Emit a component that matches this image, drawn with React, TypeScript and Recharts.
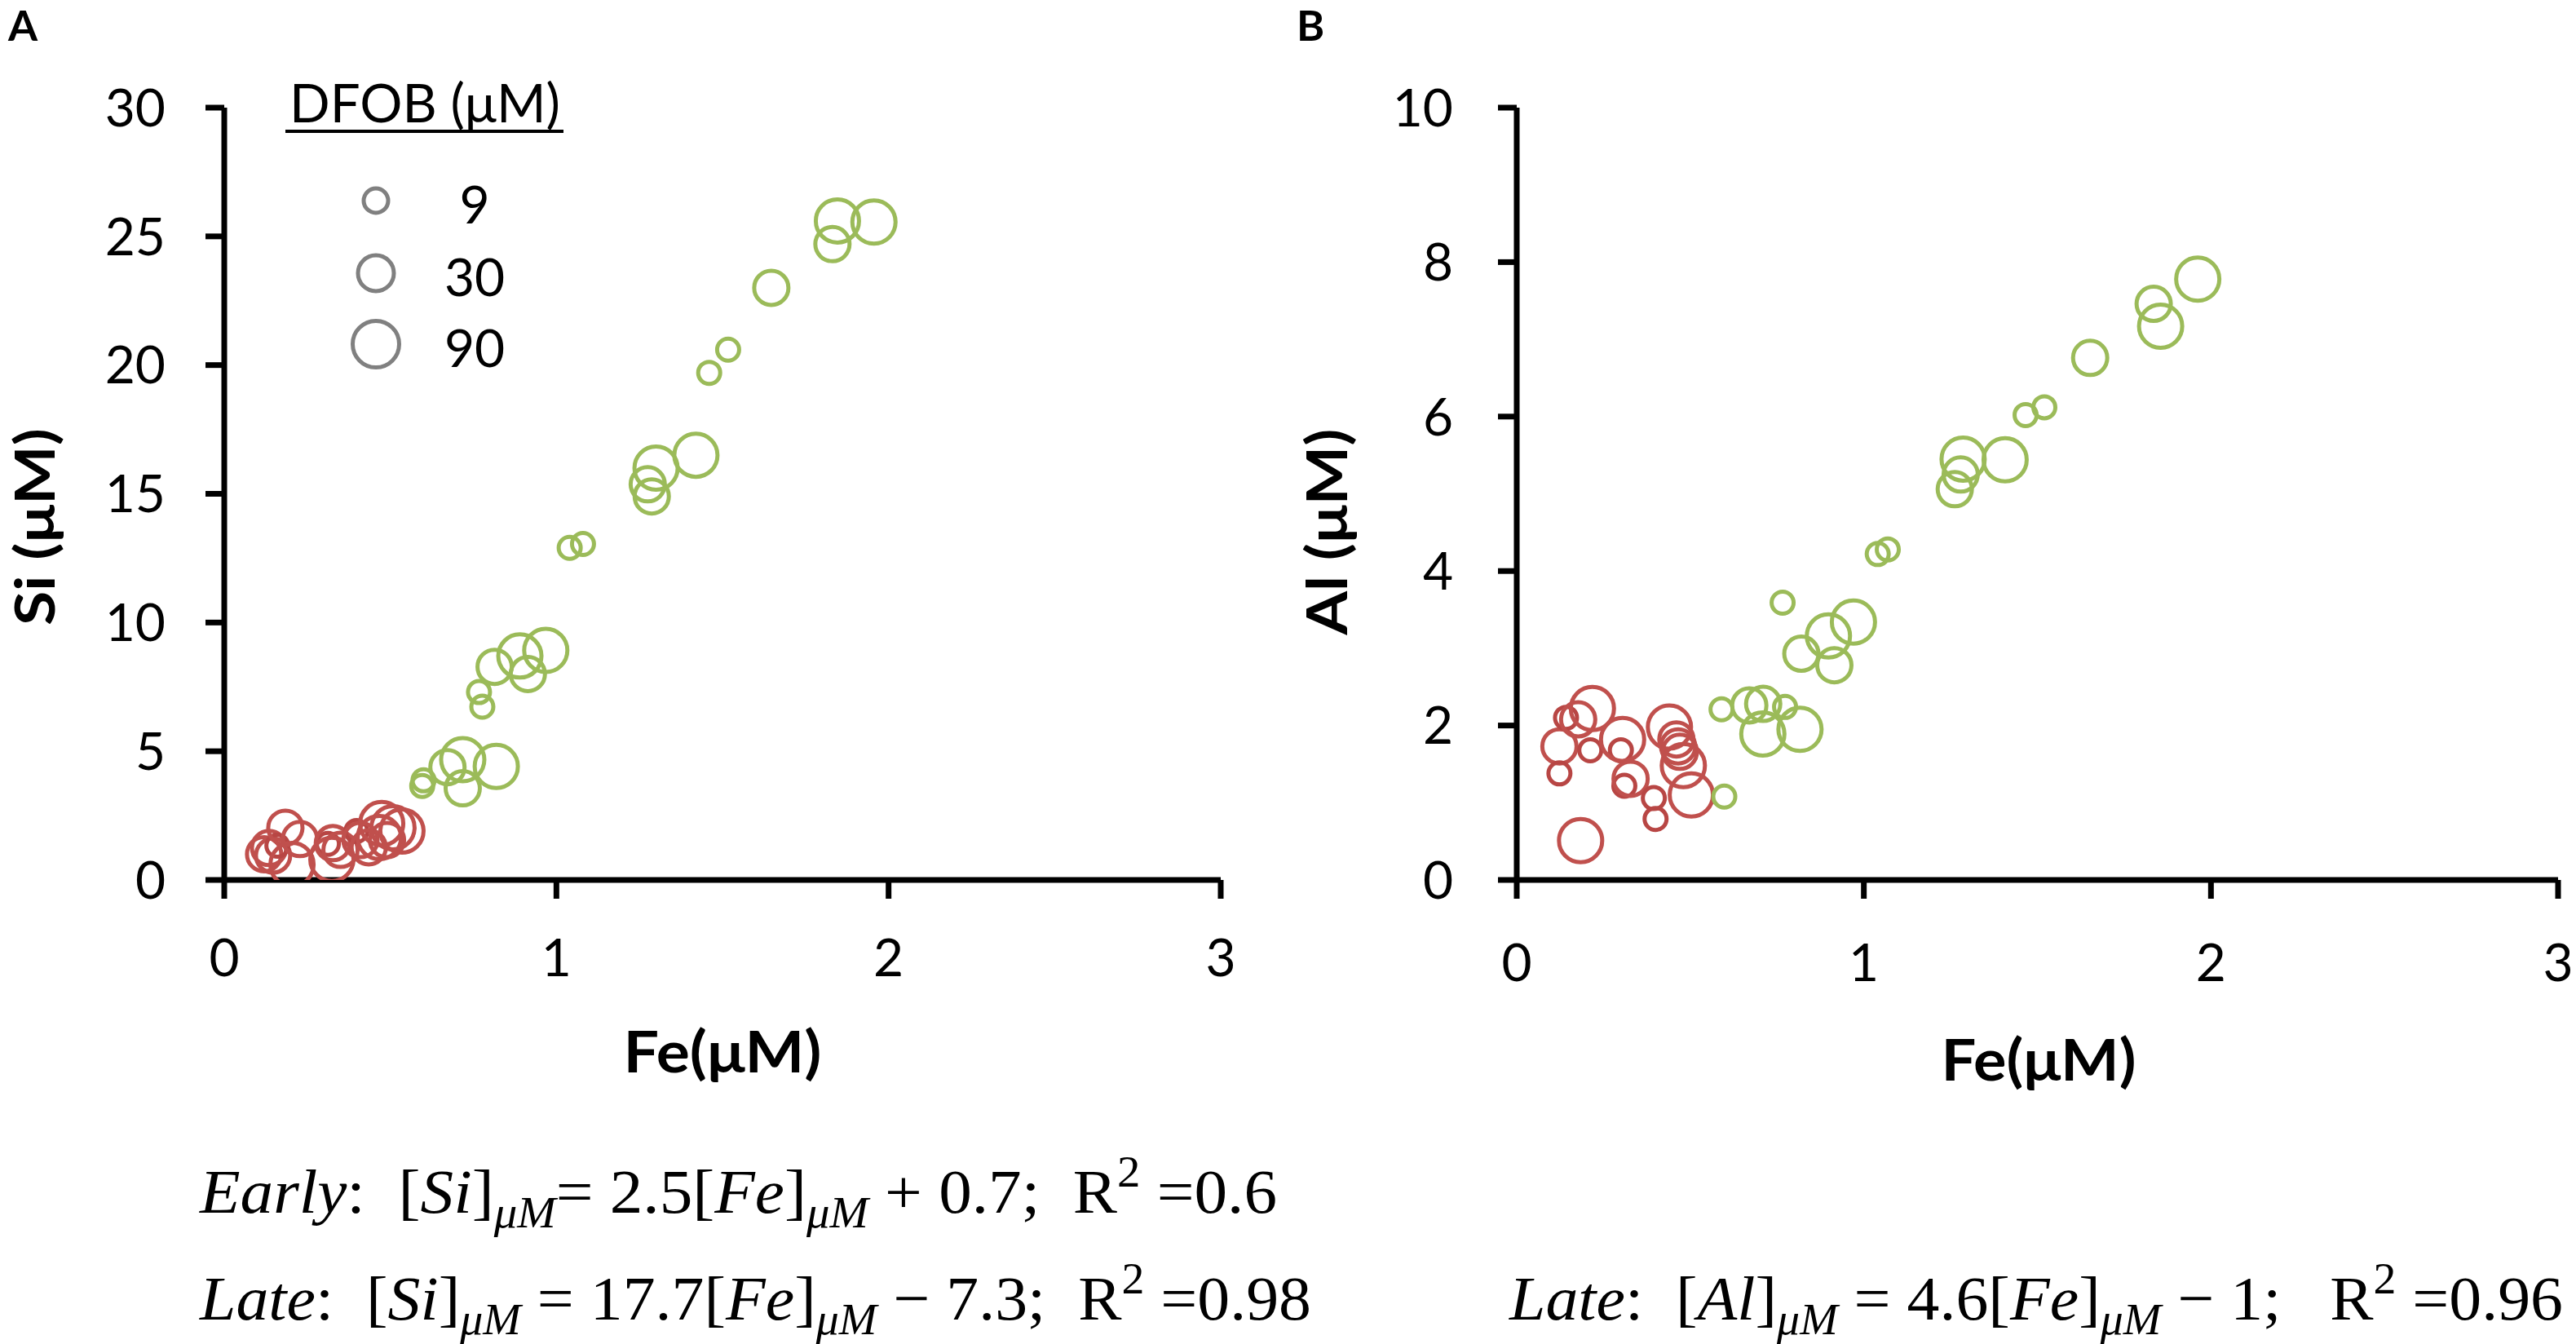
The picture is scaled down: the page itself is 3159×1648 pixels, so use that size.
import { Scatter, ScatterChart, XAxis, YAxis } from 'recharts';

// Fe ticks are shared by both panels
const FE_TICKS = [0, 1, 2, 3];
const SI_TICKS = [0, 5, 10, 15, 20, 25, 30];
const AL_TICKS = [0, 2, 4, 6, 8, 10];
const LEGEND_DFOB = [9, 30, 90];

// Panel A — early phase (red)
const earlyFeA = [0.12, 0.135, 0.147, 0.16, 0.184, 0.204, 0.228, 0.312, 0.324, 0.327, 0.35, 0.398, 0.41, 0.435, 0.467, 0.474, 0.49, 0.508, 0.535];
const earlySi = [1.0, 1.24, 0.95, 1.33, 2.03, 0.6, 1.59, 1.4, 0.8, 1.43, 1.17, 1.9, 1.55, 1.27, 1.65, 2.19, 1.55, 2.03, 1.9];
const earlyDfobA = [30, 30, 30, 9, 30, 90, 30, 9, 90, 30, 30, 9, 30, 30, 90, 90, 30, 90, 90];

// Panel A — late phase (green)
const lateFeA = [0.596, 0.6, 0.672, 0.718, 0.718, 0.767, 0.777, 0.814, 0.819, 0.89, 0.914, 0.968, 1.04, 1.08, 1.275, 1.287, 1.3, 1.42, 1.46, 1.517, 1.647, 1.831, 1.846, 1.956];
const lateSi = [3.65, 3.87, 4.38, 3.56, 4.67, 7.3, 6.73, 8.28, 4.41, 8.7, 8.0, 8.92, 12.9, 13.05, 15.37, 14.9, 16.0, 16.5, 19.7, 20.6, 23.0, 24.7, 25.6, 25.56];
const lateDfobA = [9, 9, 30, 30, 90, 9, 9, 30, 90, 90, 30, 90, 9, 9, 30, 30, 90, 90, 9, 9, 30, 30, 90, 90];

// Panel B — early phase (red)
const earlyFeB = [0.123, 0.123, 0.142, 0.177, 0.184, 0.212, 0.218, 0.3, 0.305, 0.31, 0.328, 0.395, 0.4, 0.44, 0.46, 0.465, 0.47, 0.48, 0.503];
const earlyAl = [1.73, 1.38, 2.1, 2.08, 0.51, 1.68, 2.22, 1.68, 1.82, 1.22, 1.31, 1.06, 0.79, 1.98, 1.82, 1.73, 1.66, 1.48, 1.1];
const earlyDfobB = [30, 9, 9, 30, 90, 9, 90, 9, 90, 9, 30, 9, 9, 90, 30, 30, 30, 90, 90];

// Panel B — late phase (green)
const lateFeB = [0.59, 0.598, 0.67, 0.709, 0.71, 0.766, 0.773, 0.816, 0.82, 0.898, 0.915, 0.97, 1.04, 1.069, 1.262, 1.279, 1.286, 1.407, 1.466, 1.52, 1.652, 1.835, 1.855, 1.962];
const lateAl = [2.21, 1.08, 2.26, 1.89, 2.28, 3.59, 2.24, 1.95, 2.93, 3.16, 2.78, 3.34, 4.22, 4.28, 5.06, 5.25, 5.45, 5.44, 6.02, 6.12, 6.76, 7.46, 7.17, 7.78];
const lateDfobB = [9, 9, 30, 90, 30, 9, 9, 90, 30, 90, 30, 90, 9, 9, 30, 30, 90, 90, 9, 9, 30, 30, 90, 90];

type Seg = { t: string; it?: boolean; sub?: boolean; sup?: boolean };

const EQ_EARLY_SI: Seg[] = [
  { t: 'Early', it: true }, { t: ':  [' }, { t: 'Si', it: true }, { t: ']' }, { t: 'μM', it: true, sub: true },
  { t: '= 2.5[' }, { t: 'Fe', it: true }, { t: ']' }, { t: 'μM', it: true, sub: true },
  { t: ' + 0.7;  R' }, { t: '2', sup: true }, { t: ' =0.6' },
];
const EQ_LATE_SI: Seg[] = [
  { t: 'Late', it: true }, { t: ':  [' }, { t: 'Si', it: true }, { t: ']' }, { t: 'μM', it: true, sub: true },
  { t: ' = 17.7[' }, { t: 'Fe', it: true }, { t: ']' }, { t: 'μM', it: true, sub: true },
  { t: ' − 7.3;  R' }, { t: '2', sup: true }, { t: ' =0.98' },
];
const EQ_LATE_AL: Seg[] = [
  { t: 'Late', it: true }, { t: ':  [' }, { t: 'Al', it: true }, { t: ']' }, { t: 'μM', it: true, sub: true },
  { t: ' = 4.6[' }, { t: 'Fe', it: true }, { t: ']' }, { t: 'μM', it: true, sub: true },
  { t: ' − 1;   R' }, { t: '2', sup: true }, { t: ' =0.96' },
];

const RED = '#C0504D';
const RED_SMALL = '#B84644';
const GREEN = '#9BBB59';
const GREY = '#808080';

const RING_R: Record<number, number> = { 9: 13.5, 30: 21, 90: 26.5 };
const LEGEND_R: Record<number, number> = { 9: 15, 30: 22, 90: 28.5 };
const RING_W = 5;

const SANS = 'Lato, "Open Sans", sans-serif';
const SERIF = '"Liberation Serif", "DejaVu Serif", serif';
const TICK_FONT = 64;
const EQ_SIZE = 77;

const zip = (fe: number[], y: number[], dfob: number[]) =>
  fe.map((f, i) => ({ fe: f, y: y[i], dfob: dfob[i] }));

const ring = (color: string, smallColor?: string) => (props: any) => {
  const { cx, cy, payload } = props;
  if (cx == null || cy == null) return <g />;
  const d = payload.dfob as number;
  return (
    <circle
      cx={cx}
      cy={cy}
      r={RING_R[d]}
      fill="none"
      stroke={d === 9 && smallColor ? smallColor : color}
      strokeWidth={RING_W}
    />
  );
};

const axisStroke = { stroke: '#000', strokeWidth: 7 };
const tickStyle = { fill: '#000', fontSize: TICK_FONT, fontFamily: SANS };

function Equation({ x, y, width, segs }: { x: number; y: number; width: number; segs: Seg[] }) {
  let shift = 0;
  return (
    <text
      x={x}
      y={y}
      textLength={width}
      lengthAdjust="spacingAndGlyphs"
      fontFamily={SERIF}
      fontSize={EQ_SIZE}
      fill="#000"
      style={{ whiteSpace: 'pre' }}
    >
      {segs.map((s, i) => {
        const target = s.sub ? 18 : s.sup ? -32 : 0;
        const dy = target - shift;
        shift = target;
        return (
          <tspan
            key={i}
            dy={dy}
            fontStyle={s.it ? 'italic' : 'normal'}
            fontSize={s.sub || s.sup ? EQ_SIZE * 0.7 : EQ_SIZE}
          >
            {s.t}
          </tspan>
        );
      })}
    </text>
  );
}

export default function App() {
  const earlyA = zip(earlyFeA, earlySi, earlyDfobA);
  const lateA = zip(lateFeA, lateSi, lateDfobA);
  const earlyB = zip(earlyFeB, earlyAl, earlyDfobB);
  const lateB = zip(lateFeB, lateAl, lateDfobB);

  return (
    <div
      style={{
        position: 'absolute',
        left: 0,
        top: 0,
        width: 3159,
        height: 1648,
        background: '#fff',
        fontFamily: SANS,
        overflow: 'hidden',
      }}
    >
      <div style={{ position: 'absolute', left: 0, top: 0 }}>
        <ScatterChart width={1560} height={1250} margin={{ top: 132, right: 63, bottom: 71, left: 0 }}>
          <XAxis
            type="number"
            dataKey="fe"
            domain={[0, 3]}
            ticks={FE_TICKS}
            allowDataOverflow
            height={100}
            axisLine={axisStroke}
            tickLine={axisStroke}
            tickSize={23}
            tickMargin={50}
            tick={tickStyle}
          />
          <YAxis
            type="number"
            dataKey="y"
            domain={[0, 30]}
            ticks={SI_TICKS}
            allowDataOverflow
            width={275}
            axisLine={axisStroke}
            tickLine={axisStroke}
            tickSize={23}
            tickMargin={49}
            tick={tickStyle}
          />
          <Scatter data={earlyA} shape={ring(RED, RED_SMALL)} isAnimationActive={false} />
          <Scatter data={lateA} shape={ring(GREEN)} isAnimationActive={false} />
        </ScatterChart>
      </div>

      <div style={{ position: 'absolute', left: 1580, top: 0 }}>
        <ScatterChart width={1579} height={1250} margin={{ top: 132, right: 22, bottom: 71, left: 0 }}>
          <XAxis
            type="number"
            dataKey="fe"
            domain={[0, 3]}
            ticks={FE_TICKS}
            allowDataOverflow
            height={100}
            axisLine={axisStroke}
            tickLine={axisStroke}
            tickSize={23}
            tickMargin={56}
            tick={tickStyle}
          />
          <YAxis
            type="number"
            dataKey="y"
            domain={[0, 10]}
            ticks={AL_TICKS}
            allowDataOverflow
            width={280}
            axisLine={axisStroke}
            tickLine={axisStroke}
            tickSize={23}
            tickMargin={55}
            tick={tickStyle}
          />
          <Scatter data={earlyB} shape={ring(RED, RED_SMALL)} isAnimationActive={false} />
          <Scatter data={lateB} shape={ring(GREEN)} isAnimationActive={false} />
        </ScatterChart>
      </div>

      <svg
        width={3159}
        height={1648}
        style={{ position: 'absolute', left: 0, top: 0, pointerEvents: 'none' }}
      >
        {/* panel letters */}
        <text x={10} y={50} fontFamily={SANS} fontWeight={700} fontSize={52}>A</text>
        <text x={1590} y={50} fontFamily={SANS} fontWeight={700} fontSize={52}>B</text>

        {/* axis titles */}
        <text x={886} y={1315} textAnchor="middle" fontFamily={SANS} fontWeight={700} fontSize={70}
          textLength={243} lengthAdjust="spacingAndGlyphs">Fe(μM)</text>
        <text x={2500} y={1325} textAnchor="middle" fontFamily={SANS} fontWeight={700} fontSize={70}
          textLength={239} lengthAdjust="spacingAndGlyphs">Fe(μM)</text>
        <text x={67} y={646} transform="rotate(-90 67 646)" textAnchor="middle" fontFamily={SANS}
          fontWeight={700} fontSize={66} textLength={242} lengthAdjust="spacingAndGlyphs">Si (μM)</text>
        <text x={1652} y={652} transform="rotate(-90 1652 652)" textAnchor="middle" fontFamily={SANS}
          fontWeight={700} fontSize={68} textLength={253} lengthAdjust="spacingAndGlyphs">Al (μM)</text>

        {/* size legend */}
        <text x={355} y={150} fontFamily={SANS} fontSize={66} textLength={332} lengthAdjust="spacingAndGlyphs">
          DFOB (μM)
        </text>
        <line x1={350} x2={691} y1={161} y2={161} stroke="#000" strokeWidth={4} />
        {LEGEND_DFOB.map((d, i) => {
          const cy = [246, 335, 422][i];
          return (
            <g key={d}>
              <circle cx={461} cy={cy} r={LEGEND_R[d]} fill="none" stroke={GREY} strokeWidth={RING_W} />
              <text x={582} y={cy + 28} textAnchor="middle" fontFamily={SANS} fontSize={TICK_FONT}>
                {d}
              </text>
            </g>
          );
        })}

        {/* regression equations */}
        <Equation x={245} y={1487} width={1321} segs={EQ_EARLY_SI} />
        <Equation x={245} y={1618} width={1363} segs={EQ_LATE_SI} />
        <Equation x={1851} y={1618} width={1292} segs={EQ_LATE_AL} />
      </svg>
    </div>
  );
}
